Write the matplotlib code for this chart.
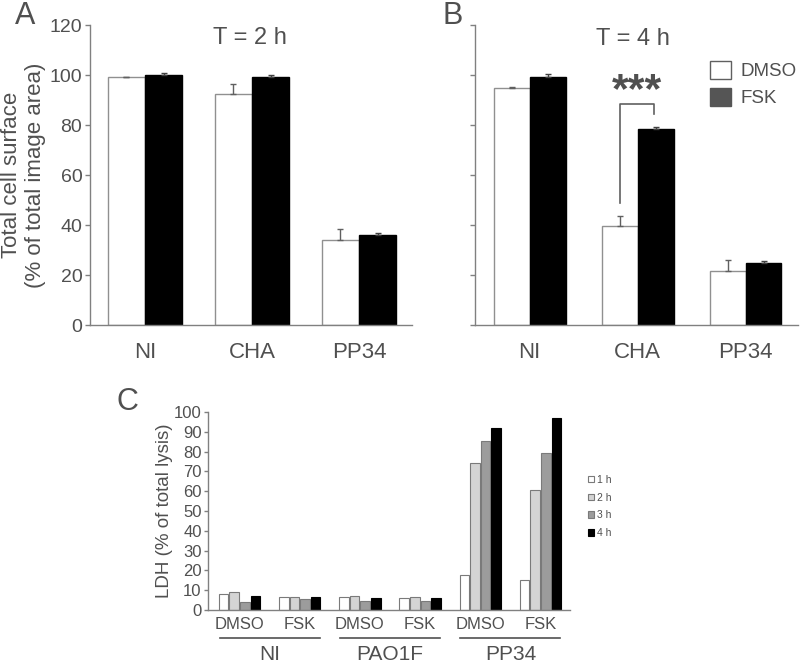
import numpy as np
import matplotlib
matplotlib.use('Agg')
import matplotlib.pyplot as plt
from matplotlib.patches import Patch
import matplotlib.transforms as mtransforms

plt.rcParams['font.family'] = ['Liberation Sans', 'DejaVu Sans']
TXT = '#505050'
SPINE = '#808080'

# ---- data, panels A and B (total cell surface, % of image area)
strains = ['NI', 'CHA', 'PP34']
dmso_2h = [99.1, 92.4, 34.0]
dmso_2h_err = [0.3, 4.0, 4.4]
fsk_2h = [100.0, 99.3, 36.1]
fsk_2h_err = [0.7, 0.7, 0.8]
dmso_4h = [94.9, 39.7, 21.7]
dmso_4h_err = [0.3, 4.0, 4.5]
fsk_4h = [99.3, 78.3, 24.9]
fsk_4h_err = [1.0, 0.9, 0.8]

# ---- data, panel C (LDH release, % of total lysis)
c_groups = ['NI', 'PAO1F', 'PP34']
c_treat = ['DMSO', 'FSK', 'DMSO', 'FSK', 'DMSO', 'FSK']
ldh_1h = [8.1, 6.7, 6.6, 5.9, 17.8, 15.2]
ldh_2h = [9.2, 6.7, 7.1, 6.4, 74.4, 60.5]
ldh_3h = [4.2, 5.5, 4.7, 4.5, 85.4, 79.1]
ldh_4h = [7.2, 6.6, 6.1, 5.9, 91.9, 96.8]
times = ['1 h', '2 h', '3 h', '4 h']

fig = plt.figure(figsize=(8, 6.64), dpi=100)


def style_axis(ax):
    for s in ['top', 'right']:
        ax.spines[s].set_visible(False)
    for s in ['left', 'bottom']:
        ax.spines[s].set_color(SPINE)
        ax.spines[s].set_linewidth(1)
    ax.tick_params(colors=SPINE, labelcolor=TXT)


def cell_panel(ax, dmso, dmso_err, fsk, fsk_err, w):
    x = np.arange(len(strains))
    ax.bar(x - w / 2, dmso, w, color='white', edgecolor='#909090', linewidth=1,
           yerr=[np.zeros(3), dmso_err], error_kw=dict(ecolor='#606060', capsize=2.5, elinewidth=1, capthick=1))
    ax.bar(x + w / 2, fsk, w, color='black', edgecolor='black', linewidth=1,
           yerr=[np.zeros(3), fsk_err], error_kw=dict(ecolor='#404040', capsize=2.5, elinewidth=1, capthick=1))
    ax.set_ylim(0, 120)
    ax.set_yticks(np.arange(0, 121, 20))
    ax.set_xticks(x)
    ax.set_xticklabels(strains, fontsize=16)
    ax.tick_params(axis='x', length=0, pad=12)
    ax.tick_params(axis='y', length=3.5, width=1, pad=2, labelsize=14)
    style_axis(ax)


# Panel A
axA = fig.add_axes([0.1125, 0.5105, 0.4025, 0.4518])
cell_panel(axA, dmso_2h, dmso_2h_err, fsk_2h, fsk_2h_err, 0.35)
axA.set_xlim(-0.514, 2.495)
axA.set_ylabel('Total cell surface\n(% of total image area)', fontsize=16, color=TXT,
               labelpad=3, linespacing=1.15)
fig.text(0.3125, 0.9337, 'T = 2 h', fontsize=17, color=TXT, ha='center', va='baseline')

# Panel B
axB = fig.add_axes([0.594, 0.5105, 0.4035, 0.4518])
cell_panel(axB, dmso_4h, dmso_4h_err, fsk_4h, fsk_4h_err, 0.333)
axB.set_xlim(-0.505, 2.486)
axB.set_yticklabels([])
fig.text(0.791, 0.932, 'T = 4 h', fontsize=17, color=TXT, ha='center', va='baseline')

# significance bracket (CHA, DMSO vs FSK)
axB.plot([0.836, 0.836, 1.15, 1.15], [48.8, 88.4, 88.4, 84.4], color='#606060', lw=1.2)
axB.text(0.99, 93.5, '***', fontsize=31, color=TXT, ha='center', va='center', fontweight='bold')

axB.legend(handles=[Patch(facecolor='white', edgecolor='#606060', linewidth=1, label='DMSO'),
                    Patch(facecolor='#555555', edgecolor='#555555', label='FSK')],
           loc='upper left', bbox_to_anchor=(0.8875, 0.908), bbox_transform=fig.transFigure,
           frameon=False, fontsize=13.5, handlelength=1.1, handleheight=1.1,
           labelspacing=0.4, handletextpad=0.55, borderpad=0, borderaxespad=0,
           labelcolor=TXT)

# Panel C
axC = fig.add_axes([0.26, 0.0813, 0.4525, 0.2982])
bw = 0.176
xc = np.arange(len(c_treat))
series = [ldh_1h, ldh_2h, ldh_3h, ldh_4h]
fills = ['white', '#d4d4d4', '#9c9c9c', 'black']
edges = ['#7a7a7a', '#7a7a7a', '#7a7a7a', 'black']
for i, (vals, fc, ec) in enumerate(zip(series, fills, edges)):
    axC.bar(xc + (i - 1.5) * bw, vals, bw * 0.92, color=fc, edgecolor=ec, linewidth=0.8,
            label=times[i])
axC.set_ylim(0, 100)
axC.set_yticks(np.arange(0, 101, 10))
axC.set_xlim(-0.523, 5.49)
axC.set_xticks(xc)
axC.set_xticklabels(c_treat, fontsize=12)
axC.tick_params(axis='x', length=0, pad=5)
axC.tick_params(axis='y', length=3, width=1, pad=1.5, labelsize=12)
style_axis(axC)
axC.set_ylabel('LDH (% of total lysis)', fontsize=13.5, color=TXT, labelpad=1)

trans = mtransforms.blended_transform_factory(axC.transData, axC.transAxes)
for g, name in enumerate(c_groups):
    mid = 2 * g + 0.5
    axC.plot([mid - 0.83, mid + 0.83], [-0.141, -0.141], transform=trans, color='#505050',
             lw=1.2, clip_on=False)
    axC.text(mid, -0.227, name, transform=trans, fontsize=15, color=TXT,
             ha='center', va='center')

axC.legend(loc='upper left', bbox_to_anchor=(0.735, 0.285), bbox_transform=fig.transFigure,
           frameon=False, fontsize=7.5, handlelength=0.6, handleheight=0.6,
           labelspacing=0.75, handletextpad=0.3, borderpad=0, borderaxespad=0,
           labelcolor=TXT)

# panel letters
fig.text(0.019, 0.9639, 'A', fontsize=22, color=TXT, va='baseline')
fig.text(0.553, 0.9639, 'B', fontsize=22, color=TXT, va='baseline')
fig.text(0.146, 0.3825, 'C', fontsize=22, color=TXT, va='baseline')

fig.savefig('out.png', dpi=100)
